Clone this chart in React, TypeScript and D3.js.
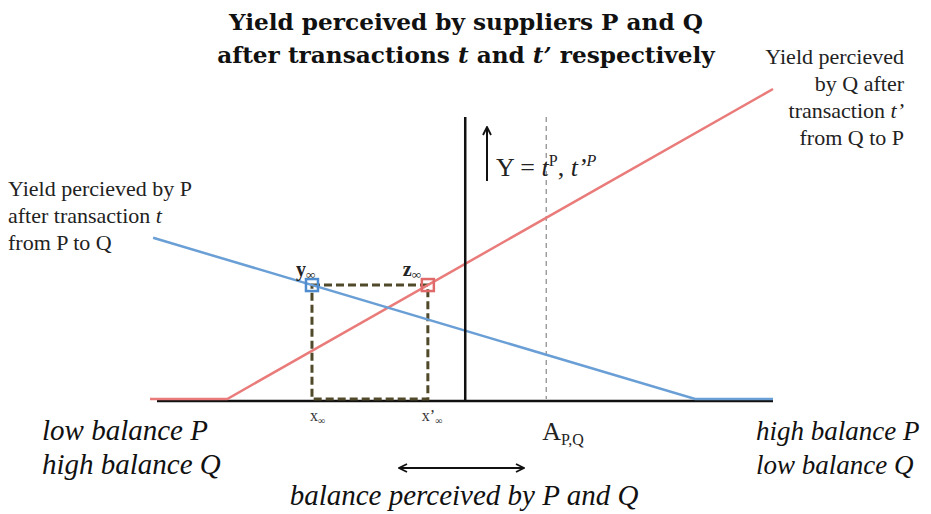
import React from 'react';
import * as d3 from 'd3';

// yield curves, balance on x (0..10), yield on y (0..10)
const redX = [0, 1.24, 10];
const redY = [0, 0, 10];
const blueX = [0.05, 8.75, 10];
const blueY = [5.2, 0, 0];

const xInfinity = 2.6;
const yAxisAt = 5.06;
const yAxisTop = 9.1;
const apqAt = 6.36;

const titleLines = ['Yield perceived by suppliers P and Q', 'after transactions '];
const leftNote = ['Yield percieved by P', 'after transaction ', 'from P to Q'];
const rightNote = ['Yield percieved', 'by Q after', 'transaction ', 'from Q to P'];

const W = 931;
const H = 514;

const App: React.FC = () => {
  const x = d3.scaleLinear().domain([0, 10]).range([150, 773]);
  const y = d3.scaleLinear().domain([0, 10]).range([399, 89]);

  const line = d3
    .line<[number, number]>()
    .x((d) => x(d[0]))
    .y((d) => y(d[1]));

  const red = redX.map((v, i) => [v, redY[i]] as [number, number]);
  const blue = blueX.map((v, i) => [v, blueY[i]] as [number, number]);

  // level of the blue line at x∞, and where the red line hits it
  const yInf = blueY[0] + ((blueY[1] - blueY[0]) * (xInfinity - blueX[0])) / (blueX[1] - blueX[0]);
  const xPrime = redX[1] + ((redX[2] - redX[1]) * (yInf - redY[1])) / (redY[2] - redY[1]);

  const serif = "'DejaVu Serif', serif";
  const body = "'Liberation Serif', serif";
  const sq = 12;

  return (
    <svg width={W} height={H} style={{ position: 'absolute', left: 0, top: 0, background: '#fff' }}>
      <defs>
        <marker id="ah" viewBox="0 0 10 10" refX="9" refY="5" markerWidth="5" markerHeight="5" orient="auto-start-reverse">
          <path d="M1,1 L9,5 L1,9" fill="none" stroke="#111" strokeWidth="1.8" />
        </marker>
      </defs>

      {/* title */}
      <text x={466} y={30} textAnchor="middle" fontFamily={serif} fontWeight="bold" fontSize={23.2} fill="#111">
        {titleLines[0]}
      </text>
      <text x={466} y={63} textAnchor="middle" fontFamily={serif} fontWeight="bold" fontSize={23.2} fill="#111">
        {titleLines[1]}
        <tspan fontStyle="italic">t</tspan> and <tspan fontStyle="italic">t’</tspan> respectively
      </text>

      {/* dashed A line */}
      <line x1={x(apqAt)} x2={x(apqAt)} y1={y(yAxisTop)} y2={y(0)} stroke="#888" strokeWidth={1.2} strokeDasharray="5,4" />

      {/* baseline */}
      <line x1={157} x2={x(10)} y1={y(0) + 2} y2={y(0) + 2} stroke="#111" strokeWidth={2.5} />

      {/* dashed box */}
      <rect
        x={x(xInfinity)}
        y={y(yInf)}
        width={x(xPrime) - x(xInfinity)}
        height={y(0) - y(yInf)}
        fill="none"
        stroke="#514a2a"
        strokeWidth={3}
        strokeDasharray="8,4"
      />

      <path d={line(red) || ''} fill="none" stroke="#e97c7a" strokeWidth={2.5} />
      <path d={line(blue) || ''} fill="none" stroke="#6a9fd6" strokeWidth={2.5} />

      {/* vertical Y axis */}
      <line x1={x(yAxisAt)} x2={x(yAxisAt)} y1={y(yAxisTop)} y2={y(0) + 3} stroke="#111" strokeWidth={2.5} />

      {/* markers on the curves */}
      <rect x={x(xInfinity) - sq / 2} y={y(yInf) - sq / 2} width={sq} height={sq} fill="none" stroke="#4f8ccf" strokeWidth={2.5} />
      <rect x={x(xPrime) - sq / 2} y={y(yInf) - sq / 2} width={sq} height={sq} fill="none" stroke="#e06a6a" strokeWidth={2.5} />

      <text x={x(xInfinity) - 16} y={y(yInf) - 9} fontFamily={body} fontWeight="bold" fontSize={20} fill="#222">
        y<tspan fontSize={13} dy={3}>∞</tspan>
      </text>
      <text x={x(xPrime) - 25} y={y(yInf) - 9} fontFamily={body} fontWeight="bold" fontSize={20} fill="#222">
        z<tspan fontSize={13} dy={3}>∞</tspan>
      </text>

      <text x={x(xInfinity) - 2} y={y(0) + 22} fontFamily={body} fontSize={16} fill="#333">
        x<tspan fontSize={10} dy={3}>∞</tspan>
      </text>
      <text x={x(xPrime) - 6} y={y(0) + 22} fontFamily={body} fontSize={16} fill="#333">
        x’<tspan fontSize={10} dy={3}>∞</tspan>
      </text>

      <text x={x(apqAt) - 4} y={y(0) + 41} fontFamily={body} fontSize={26} fill="#222">
        A<tspan fontSize={16} dy={5}>P,Q</tspan>
      </text>

      {/* Y arrow and label */}
      <line x1={487} x2={487} y1={181} y2={127} stroke="#111" strokeWidth={2} markerEnd="url(#ah)" />
      <text x={496} y={176} fontFamily={body} fontSize={26} fill="#222">
        Y = <tspan fontStyle="italic">t</tspan>
        <tspan fontSize={16} dy={-10}>P</tspan>
        <tspan dy={10}>, </tspan>
        <tspan fontStyle="italic">t’</tspan>
        <tspan fontSize={16} dy={-10} fontStyle="italic">P</tspan>
      </text>

      {/* side notes */}
      {leftNote.map((s, i) => (
        <text key={'l' + i} x={8} y={196 + i * 27} fontFamily={body} fontSize={22} fill="#222">
          {s}
          {i === 1 ? <tspan fontStyle="italic">t</tspan> : null}
        </text>
      ))}
      {rightNote.map((s, i) => (
        <text key={'r' + i} x={904} y={64 + i * 27} textAnchor="end" fontFamily={body} fontSize={22} fill="#222">
          {s}
          {i === 2 ? <tspan fontStyle="italic">t’</tspan> : null}
        </text>
      ))}

      {/* end labels */}
      <text x={42} y={440} fontFamily={body} fontStyle="italic" fontSize={29} fill="#111">low balance P</text>
      <text x={42} y={474} fontFamily={body} fontStyle="italic" fontSize={29} fill="#111">high balance Q</text>
      <text x={756} y={440} fontFamily={body} fontStyle="italic" fontSize={27} fill="#111">high balance P</text>
      <text x={756} y={474} fontFamily={body} fontStyle="italic" fontSize={27} fill="#111">low balance Q</text>

      {/* balance arrow */}
      <line x1={399} x2={524} y1={468} y2={468} stroke="#111" strokeWidth={2} markerStart="url(#ah)" markerEnd="url(#ah)" />
      <text x={464} y={505} textAnchor="middle" fontFamily={body} fontStyle="italic" fontSize={29} fill="#111">
        balance perceived by P and Q
      </text>
    </svg>
  );
};

export default App;
